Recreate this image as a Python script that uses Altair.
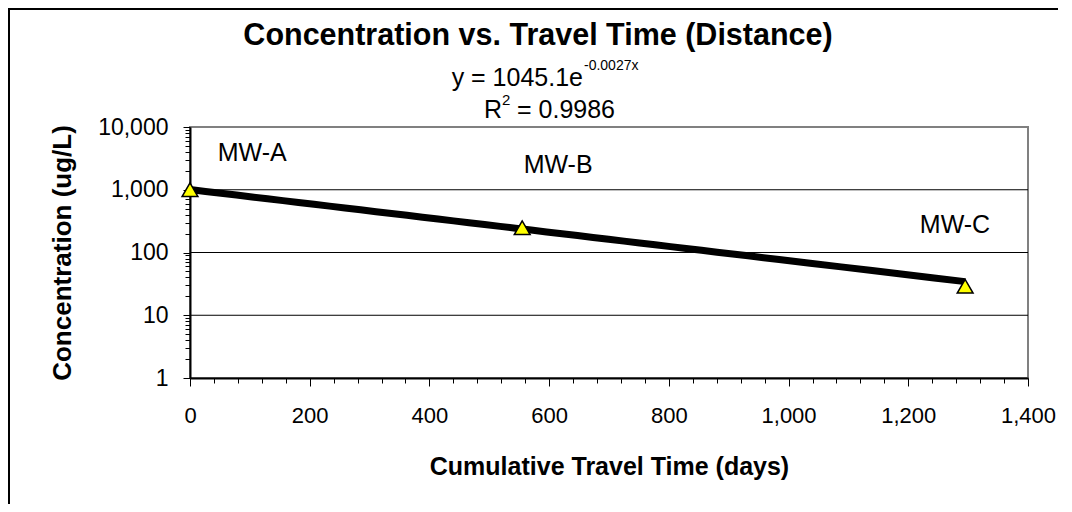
import altair as alt
import pandas as pd

# ---- data ----
wells = ["MW-A", "MW-B", "MW-C"]
days = [0, 555, 1295]
conc = [1000, 248, 29]

label_days = [104, 615, 1278]
label_conc = [3900, 2500, 277]

x_major = [0, 200, 400, 600, 800, 1000, 1200, 1400]
x_minor = [v for v in range(0, 1401, 40) if v % 200 != 0]
y_major = [1, 10, 100, 1000, 10000]
y_minor = [m * 10 ** k for k in range(4) for m in range(2, 10)]
grid_vals = [10, 100, 1000]

title_text = "Concentration vs. Travel Time (Distance)"
eq_base = "y = 1045.1e"
eq_exp = "-0.0027x"
r2_r = "R"
r2_sup = "2"
r2_rest = "= 0.9986"

FONT = "Liberation Sans"

pts = pd.DataFrame({"well": wells, "days": days, "conc": conc})
lbl = pd.DataFrame({"well": wells, "days": label_days, "conc": label_conc})
grid = pd.DataFrame({"g": grid_vals})

xs = alt.Scale(domain=[0, 1400], nice=False, zero=False)
ys = alt.Scale(type="log", domain=[1, 10000], nice=False)

x_axis = alt.Axis(values=x_major, orient="bottom", labelExpr="format(datum.value, ',')",
                  labelFont=FONT, labelFontSize=22,
                  labelColor="black", labelPadding=19, labelFlush=False,
                  tickColor="black", tickSize=8, tickWidth=1,
                  domainColor="black", domainWidth=2, grid=False,
                  title="Cumulative Travel Time (days)", titleFont=FONT,
                  titleFontSize=25, titleFontWeight="bold", titleColor="black",
                  titleX=419, titleY=88, titleBaseline="middle", titleAlign="center")
y_axis = alt.Axis(values=y_major, orient="left", labelExpr="format(datum.value, ',')",
                  labelFont=FONT, labelFontSize=23,
                  labelColor="black", labelPadding=15,
                  tickColor="black", tickSize=7, tickWidth=1,
                  domainColor="black", domainWidth=2, grid=False,
                  title="Concentration (ug/L)", titleFont=FONT, titleFontSize=26,
                  titleFontWeight="bold", titleColor="black", titleAngle=270,
                  titleX=-128, titleY=125.5, titleBaseline="middle", titleAlign="center")
x_minor_axis = alt.Axis(values=x_minor, labels=False, tickColor="black", tickSize=5,
                        tickWidth=1, domain=False, grid=False, title=None, orient="bottom")
y_minor_axis = alt.Axis(values=y_minor, labels=False, tickColor="black", tickSize=5,
                        tickWidth=1, domain=False, grid=False, title=None, orient="left")

text_df = pd.DataFrame({"t": [""]})

border = alt.Chart(text_df).mark_rect(fill=None, stroke="black", strokeWidth=2).encode(
    x=alt.value(-181), x2=alt.value(1000), y=alt.value(-118), y2=alt.value(600))

grid_layer = alt.Chart(grid).mark_rule(color="black", strokeWidth=1).encode(
    y=alt.Y("g:Q", scale=ys, axis=None))

minor_layer = alt.Chart(pts).mark_point(opacity=0).encode(
    x=alt.X("days:Q", scale=xs, axis=x_minor_axis),
    y=alt.Y("conc:Q", scale=ys, axis=y_minor_axis))

trend = alt.Chart(pts).transform_regression(
    "days", "conc", method="exp", extent=[min(days), max(days)]
).mark_line(color="black", strokeWidth=7, strokeCap="butt").encode(
    x=alt.X("days:Q", scale=xs, axis=None),
    y=alt.Y("conc:Q", scale=ys, axis=None))

points = alt.Chart(pts).mark_point(shape="triangle-up", filled=True, fill="#FFFF00",
                                   stroke="black", strokeWidth=1.5, size=250, opacity=1).encode(
    x=alt.X("days:Q", scale=xs, axis=x_axis),
    y=alt.Y("conc:Q", scale=ys, axis=y_axis))

labels = alt.Chart(lbl).mark_text(font=FONT, fontSize=25, color="black",
                                  align="center", baseline="middle").encode(
    x=alt.X("days:Q", scale=xs, axis=None),
    y=alt.Y("conc:Q", scale=ys, axis=None),
    text="well:N")

def ann(txt, x, y, size, align="left", weight="normal"):
    return alt.Chart(pd.DataFrame({"t": [txt]})).mark_text(
        font=FONT, fontSize=size, fontWeight=weight, color="black",
        align=align, baseline="alphabetic").encode(
        text="t:N", x=alt.value(x), y=alt.value(y))

title_l = ann(title_text, 348, -82, 30.5, "center", "bold")
eq1 = ann(eq_base, 393, -41, 25, "right")
eq2 = ann(eq_exp, 394, -57, 14, "left")
r1 = ann(r2_r, 294, -9, 25, "left")
r2 = ann(r2_sup, 312, -22, 15, "left")
r3 = ann(r2_rest, 327, -9, 25, "left")

chart = alt.layer(
    border, grid_layer, minor_layer, trend, points, labels,
    title_l, eq1, eq2, r1, r2, r3
).resolve_axis(x="independent", y="independent").properties(
    width=838, height=251,
    autosize=alt.AutoSizeParams(type="none"),
    padding={"left": 182, "top": 119, "right": 30, "bottom": 126},
    background="white",
).configure_view(stroke="#808080", strokeWidth=2)

chart.save("out.html", embed_options={"renderer": "svg", "actions": False})
